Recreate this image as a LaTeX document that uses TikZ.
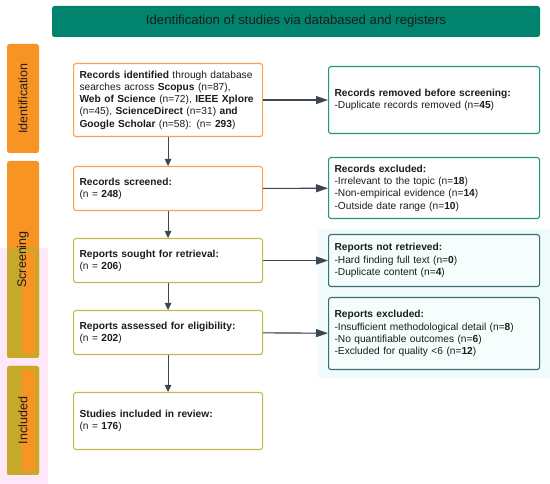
\documentclass[tikz,border=0pt]{standalone}
\usepackage{fontspec}
\setmainfont{Liberation Sans}
\usetikzlibrary{arrows.meta}

\definecolor{headteal}{RGB}{0,132,110}
\definecolor{barorange}{RGB}{248,148,36}
\definecolor{barolive}{RGB}{200,168,40}
\definecolor{boxorange}{RGB}{246,162,88}
\definecolor{boxolive}{RGB}{196,184,80}
\definecolor{boxteal}{RGB}{28,150,128}
\definecolor{boxslate}{RGB}{58,110,116}
\definecolor{flowgray}{RGB}{62,70,82}
\definecolor{inktext}{RGB}{28,28,28}
\definecolor{hlpink}{RGB}{252,232,248}
\definecolor{hlcyan}{RGB}{240,251,251}

\begin{document}
\begin{tikzpicture}[x=1pt, y=-1pt,
        bar/.style={fill=barorange, rounded corners=2.5pt, rotate=90, text=inktext,
            font=\fontsize{12.5}{14}\selectfont},
        leftbox/.style={draw=boxorange, line width=1.1pt, rounded corners=2.5pt, fill=white,
            anchor=north west, align=left, text width=177pt, minimum width=189pt,
            inner xsep=6pt, text=inktext, font=\fontsize{10.2}{12.3}\selectfont},
        rightbox/.style={leftbox, draw=boxteal, text width=199pt, minimum width=211pt},
        flow/.style={draw=flowgray, line width=1.1pt, -{Triangle[length=7pt, width=6.5pt]}, fill=flowgray},
        side/.style={flow, -{Triangle[length=12pt, width=8pt]}}
    ]
    \useasboundingbox (0, 0) rectangle (550, 484);

    % highlight marks
    \fill [hlpink] (0, 248) rectangle (48, 484);
    \fill [hlcyan] (318, 229) rectangle (550, 378);

    % header
    \node (head) [fill=headteal, rounded corners=2.5pt, minimum width=488pt, minimum height=31pt,
        text=inktext, font=\fontsize{13.2}{15}\selectfont] at (296, 21.5)
        {Identification of studies via databased and registers};

    % stage bars
    \node (ident) [bar, minimum width=109pt, minimum height=32pt] at (23, 98.5) {};
    \node (screen) [bar, minimum width=197pt, minimum height=32pt] at (23, 259.5) {};
    \node (incl) [bar, minimum width=109pt, minimum height=32pt] at (23, 420.5) {};
    \fill [barolive, rounded corners=2.5pt] (7, 248) rectangle (39, 358);
    \fill [barolive, rounded corners=2.5pt] (7, 366) rectangle (39, 475);
    \fill [barorange] (22, 252) rectangle (35, 354);
    \fill [barorange] (22, 370) rectangle (35, 471);
    \foreach \bname/\btext in {ident/Identification, screen/Screening, incl/Included}
        \node [rotate=90, text=inktext, font=\fontsize{12.5}{14}\selectfont] at (\bname) {\btext};

    % left column
    \node (found) [leftbox, minimum height=73pt] at (73, 63)
        {\textbf{Records identified} through database\\
         searches across \textbf{Scopus} (n=87),\\
         \textbf{Web of Science} (n=72), \textbf{IEEE Xplore}\\
         (n=45), \textbf{ScienceDirect} (n=31) \textbf{and}\\
         \textbf{Google Scholar} (n=58): (n= \textbf{293})};
    \node (screened) [leftbox, minimum height=44pt] at (73, 166)
        {\textbf{Records screened:}\\(n = \textbf{248})};
    \node (sought) [leftbox, draw=boxolive, minimum height=44pt] at (73, 238)
        {\textbf{Reports sought for retrieval:}\\(n = \textbf{206})};
    \node (assessed) [leftbox, draw=boxolive, minimum height=44pt] at (73, 310)
        {\textbf{Reports assessed for eligibility:}\\(n = \textbf{202})};
    \node (included) [leftbox, draw=boxolive, minimum height=57pt] at (73, 392)
        {\textbf{Studies included in review:}\\(n = \textbf{176})};

    % right column
    \node (removed) [rightbox, minimum height=67pt] at (328, 66)
        {\textbf{Records removed before screening:}\\
         -Duplicate records removed (n=\textbf{45})};
    \node (excluded) [rightbox, minimum height=61pt] at (328, 157)
        {\textbf{Records excluded:}\\
         -Irrelevant to the topic (n=\textbf{18})\\
         -Non-empirical evidence (n=\textbf{14})\\
         -Outside date range (n=\textbf{10})};
    \node (notret) [rightbox, draw=boxslate, fill=hlcyan!60, minimum height=52pt] at (328, 234)
        {\textbf{Reports not retrieved:}\\
         -Hard finding full text (n=\textbf{0})\\
         -Duplicate content (n=\textbf{4})};
    \node (repexcl) [rightbox, draw=boxslate, fill=hlcyan!60, minimum height=72pt] at (328, 297)
        {\textbf{Reports excluded:}\\
         -Insufficient methodological detail (n=\textbf{8})\\
         -No quantifiable outcomes (n=\textbf{6})\\
         -Excluded for quality <6 (n=\textbf{12})};

    % connectors
    \draw [flow] (found) -- (screened);
    \draw [flow] (screened) -- (sought);
    \draw [flow] (sought) -- (assessed);
    \draw [flow] (assessed) -- (included);
    \draw [side] (found) -- (removed);
    \draw [side] (screened) -- (excluded);
    \draw [side] (sought) -- (notret);
    \draw [side] (assessed) -- (repexcl);
\end{tikzpicture}
\end{document}
